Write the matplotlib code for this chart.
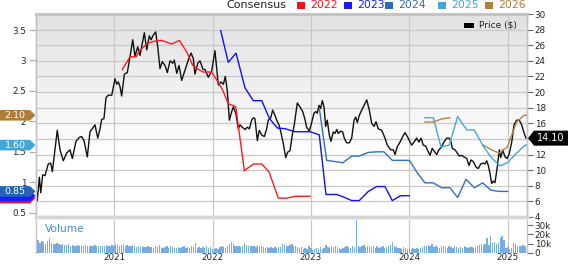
import numpy as np
import matplotlib
matplotlib.use("Agg")
import matplotlib.pyplot as plt
from matplotlib.patches import Polygon, Rectangle
from matplotlib.transforms import blended_transform_factory

# ---- datos (fechas en anios decimales) ----
price_t = [2020.208, 2020.221, 2020.242, 2020.256, 2020.276, 2020.299, 2020.333, 2020.357, 2020.374, 2020.401,
           2020.424, 2020.452, 2020.485, 2020.520, 2020.553, 2020.577, 2020.614, 2020.648, 2020.672, 2020.695,
           2020.729, 2020.756, 2020.784, 2020.807, 2020.835, 2020.858, 2020.875, 2020.898, 2020.919, 2020.942,
           2020.977, 2021.010, 2021.027, 2021.044, 2021.061, 2021.078, 2021.105, 2021.135, 2021.162, 2021.190,
           2021.213, 2021.241, 2021.264, 2021.287, 2021.308, 2021.332, 2021.358, 2021.376, 2021.399, 2021.423,
           2021.444, 2021.467, 2021.490, 2021.518, 2021.541, 2021.569, 2021.596, 2021.612, 2021.637, 2021.660,
           2021.687, 2021.721, 2021.754, 2021.782, 2021.805, 2021.822, 2021.850, 2021.873, 2021.904, 2021.924,
           2021.957, 2021.992, 2022.025, 2022.059, 2022.086, 2022.110, 2022.130, 2022.150, 2022.171, 2022.195,
           2022.211, 2022.236, 2022.262, 2022.279, 2022.303, 2022.330, 2022.353, 2022.374, 2022.398, 2022.414,
           2022.431, 2022.455, 2022.475, 2022.500, 2022.526, 2022.550, 2022.566, 2022.591, 2022.611, 2022.635,
           2022.652, 2022.675, 2022.695, 2022.719, 2022.743, 2022.763, 2022.787, 2022.810, 2022.830, 2022.861,
           2022.888, 2022.916, 2022.939, 2022.956, 2022.983, 2023.007, 2023.030, 2023.051, 2023.064, 2023.081,
           2023.098, 2023.115, 2023.132, 2023.149, 2023.165, 2023.186, 2023.203, 2023.226, 2023.244, 2023.261,
           2023.277, 2023.302, 2023.322, 2023.338, 2023.362, 2023.389, 2023.413, 2023.437, 2023.454, 2023.470,
           2023.490, 2023.515, 2023.538, 2023.566, 2023.592, 2023.616, 2023.640, 2023.660, 2023.683, 2023.718,
           2023.751, 2023.775, 2023.809, 2023.836, 2023.853, 2023.876, 2023.904, 2023.931, 2023.954, 2023.978,
           2023.998, 2024.022, 2024.046, 2024.073, 2024.096, 2024.117, 2024.140, 2024.164, 2024.185, 2024.208,
           2024.231, 2024.252, 2024.276, 2024.299, 2024.327, 2024.350, 2024.378, 2024.401, 2024.418, 2024.435,
           2024.462, 2024.485, 2024.506, 2024.530, 2024.553, 2024.581, 2024.604, 2024.624, 2024.648, 2024.675,
           2024.698, 2024.723, 2024.749, 2024.766, 2024.784, 2024.800, 2024.817, 2024.834, 2024.851, 2024.868,
           2024.891, 2024.912, 2024.926, 2024.946, 2024.970, 2024.993, 2025.013, 2025.038, 2025.061, 2025.088,
           2025.115, 2025.139, 2025.162, 2025.183]
price = [7.9, 6.1, 9.1, 7.1, 9.4, 9.3, 10.8, 10.9, 9.8, 12.6,
         15.1, 12.6, 11.2, 12.2, 12.6, 11.5, 13.7, 14.2, 14.3, 13.8,
         11.7, 14.9, 15.4, 15.8, 14.1, 15.3, 16.5, 16.6, 19.3, 19.6,
         19.6, 21.7, 21.0, 21.3, 20.7, 19.5, 22.3, 22.5, 24.5, 26.7,
         24.6, 25.8, 24.7, 26.2, 27.6, 25.4, 27.2, 26.7, 27.3, 27.7,
         25.8, 23.0, 23.9, 23.4, 22.5, 24.0, 23.7, 24.1, 22.4, 23.4,
         21.5, 22.8, 24.1, 25.0, 24.3, 22.3, 23.7, 24.0, 22.9, 22.9,
         21.9, 22.7, 25.3, 20.9, 21.3, 21.0, 22.0, 20.2, 16.4, 17.5,
         18.1, 17.3, 15.3, 15.8, 15.5, 15.2, 15.5, 15.3, 16.4, 16.7,
         16.6, 13.8, 15.1, 14.5, 14.3, 15.3, 16.4, 16.7, 17.7, 17.0,
         16.4, 15.8, 14.8, 13.4, 11.6, 12.3, 12.5, 14.5, 15.8, 18.6,
         18.1, 17.5, 16.5, 15.5, 15.0, 16.1, 17.3, 17.5, 17.3, 18.3,
         17.9, 18.9, 18.1, 15.6, 16.4, 14.5, 13.7, 14.9, 14.7, 15.2,
         14.7, 15.0, 14.9, 14.1, 13.5, 13.5, 14.1, 16.4, 16.8, 16.1,
         17.0, 17.7, 18.3, 19.0, 17.7, 16.0, 15.6, 16.2, 15.3, 15.1,
         14.1, 13.2, 12.6, 12.6, 12.0, 13.0, 13.6, 14.3, 14.8, 14.3,
         13.8, 13.2, 13.6, 14.1, 13.6, 14.1, 13.2, 13.1, 12.5, 11.9,
         12.8, 12.4, 12.0, 12.6, 13.0, 13.6, 14.1, 14.1, 13.8, 12.8,
         12.6, 12.2, 11.8, 11.9, 11.7, 11.5, 10.6, 11.3, 11.1, 10.4,
         10.2, 10.8, 10.9, 10.8, 11.2, 10.6, 9.6, 8.3, 8.6, 8.4,
         10.4, 12.6, 11.6, 12.6, 11.7, 11.5, 12.1, 13.6, 15.8, 16.4,
         16.4, 15.8, 14.8, 14.1]

eps22_t = [2021.084, 2021.129, 2021.162, 2021.223, 2021.264, 2021.338, 2021.416, 2021.484, 2021.586,
           2021.663, 2021.738, 2021.799, 2021.840, 2021.907, 2021.990, 2022.059, 2022.104, 2022.160,
           2022.236, 2022.323, 2022.414, 2022.500, 2022.574, 2022.668, 2022.753, 2022.838, 2022.990]
eps22 = [2.85, 2.97, 3.06, 3.06, 3.17, 3.28, 3.32, 3.33, 3.27,
         3.33, 3.14, 2.92, 2.87, 2.81, 2.81, 2.64, 2.51, 2.29,
         2.24, 1.19, 1.30, 1.30, 1.17, 0.74, 0.74, 0.77, 0.77]

eps23_t = [2022.083, 2022.160, 2022.239, 2022.330, 2022.414, 2022.500, 2022.577, 2022.658, 2022.736,
           2022.838, 2022.990, 2023.084, 2023.152, 2023.261, 2023.328, 2023.413, 2023.490, 2023.582,
           2023.667, 2023.751, 2023.825, 2023.911, 2023.998]
eps23 = [3.49, 2.97, 3.12, 2.55, 2.34, 2.34, 2.05, 1.89, 1.88,
         1.83, 1.83, 1.78, 0.80, 0.80, 0.76, 0.70, 0.70, 0.85,
         0.93, 0.93, 0.70, 0.78, 0.78]

eps24_t = [2023.084, 2023.159, 2023.244, 2023.322, 2023.413, 2023.490, 2023.582, 2023.667, 2023.741,
           2023.825, 2023.998, 2024.073, 2024.157, 2024.242, 2024.327, 2024.411, 2024.489, 2024.574,
           2024.658, 2024.743, 2024.827, 2024.912, 2024.997]
eps24 = [2.22, 1.36, 1.34, 1.32, 1.43, 1.43, 1.49, 1.50, 1.50,
         1.36, 1.36, 1.17, 0.99, 0.99, 0.91, 0.91, 0.75, 1.05,
         0.91, 0.99, 0.87, 0.85, 0.85]

eps25_t = [2024.157, 2024.242, 2024.320, 2024.404, 2024.489, 2024.581, 2024.658, 2024.749, 2024.834,
           2024.919, 2024.993, 2025.088, 2025.173, 2025.190]
eps25 = [2.06, 2.06, 1.58, 1.61, 2.08, 1.86, 1.86, 1.59, 1.40,
         1.27, 1.32, 1.48, 1.61, 1.61]

eps26_t = [2024.157, 2024.242, 2024.327, 2024.411, 2024.580, 2024.749, 2024.834, 2024.912, 2024.993,
           2025.088, 2025.162, 2025.190]
eps26 = [1.99, 1.99, 2.04, 2.06, np.nan, 1.61, 1.53, 1.48, 1.58,
         1.99, 2.10, 2.10]

# valores de las etiquetas del lado izquierdo
badge_vals = [("", 0.74, "#e0102a"), ("", 0.78, "#1a1aff"), ("0.85", 0.85, "#2464b4"),
              ("1.60", 1.61, "#44a6d6"), ("2.10", 2.10, "#b07e36")]
last_price_label = "14.10"

# volumen semanal (miles), primera semana 2020.21
vol_start = 2020.21
volume_k = [21, 14, 11, 13, 12, 10, 13, 16, 11, 10, 10, 11, 10, 9, 10, 9, 9, 10, 8, 9,
            8, 8, 9, 7, 8, 8, 9, 7, 8, 7, 8, 9, 7, 8, 7, 8, 7, 9, 8, 7,
            9, 8, 10, 9, 8, 9, 10, 8, 9, 8, 7, 9, 7, 6, 7, 6, 7, 6, 6, 7,
            6, 6, 5, 7, 6, 9, 6, 5, 6, 7, 5, 8, 6, 5, 5, 6, 5, 6, 7, 5,
            6, 5, 7, 6, 11, 5, 6, 5, 6, 5, 7, 5, 6, 4, 4, 5, 4, 6, 7, 6,
            5, 8, 10, 12, 10, 8, 7, 8, 6, 7, 11, 9, 8, 7, 8, 7, 6, 9, 8, 7,
            6, 5, 6, 5, 6, 5, 6, 5, 6, 6, 10, 9, 7, 8, 9, 10, 8, 7, 6, 5,
            6, 4, 5, 4, 7, 5, 3, 4, 5, 4, 6, 4, 5, 9, 6, 5, 7, 6, 8, 6,
            5, 4, 5, 6, 7, 6, 5, 7, 6, 35, 8, 6, 7, 9, 6, 8, 7, 6, 8, 5,
            7, 5, 6, 7, 5, 6, 8, 9, 12, 7, 6, 5, 5, 4, 6, 5, 4, 5, 4, 5,
            4, 5, 4, 5, 6, 7, 8, 9, 7, 10, 6, 8, 6, 5, 8, 7, 6, 5, 7, 6,
            5, 7, 6, 5, 6, 5, 7, 6, 5, 6, 6, 5, 6, 7, 9, 10, 9, 10, 16, 9,
            18, 11, 12, 10, 11, 16, 18, 14, 5, 6, 4, 5, 11, 10, 8, 7, 8, 9, 8]

years = [2021, 2022, 2023, 2024, 2025]
price_ticks = list(range(4, 31, 2))
eps_ticks = [0.5, 1, 1.5, 2, 2.5, 3, 3.5]

legend_items = [("2022", "#f0141e"), ("2023", "#1a1aff"), ("2024", "#2e6cb8"),
                ("2025", "#44a6d6"), ("2026", "#b07e36")]
line_colors = {"2022": "#ff1a1a", "2023": "#1010ff", "2024": "#3270c0",
               "2025": "#44a8d8", "2026": "#b8843e"}

# ---- figura ----
W, H = 568, 264
fig = plt.figure(figsize=(W / 100, H / 100), dpi=100)


def box(x0, y0, x1, y1):
    return [x0 / W, 1 - y1 / H, (x1 - x0) / W, (y1 - y0) / H]


# eje de precio (derecha) abajo, eje de consenso (izquierda) encima
axp = fig.add_axes(box(36, 14, 527, 217))
ax = axp.twinx()
axv = fig.add_axes(box(36, 219.5, 527, 253))

xmin, xmax = 2020.208, 2025.193
grid_c = "#c9c9c9"
spine_c = "#c4c4c4"
txt_c = "#222222"

# fondo con degradado
grad = np.linspace(0, 1, 200).reshape(-1, 1)
shade = np.clip((grad - 0.3) / 0.7, 0, 1)
rgb = np.ones((200, 1, 3)) - shade[..., None] * (1 - 0.885)
axp.imshow(rgb, extent=[0, 1, 0, 1], transform=axp.transAxes, aspect="auto",
           origin="lower", zorder=0, interpolation="bilinear")

axp.set_xlim(xmin, xmax)
axp.set_ylim(4, 30)
ax.set_ylim(0.43, 3.763)

# grilla y ejes
axp.set_xticks(years)
axp.set_xticklabels([])
axp.tick_params(axis="x", length=0)
axp.yaxis.tick_right()
axp.set_yticks(price_ticks)
# la etiqueta 14 queda tapada por el badge del precio
axp.set_yticklabels(["" if v == 14 else str(v) for v in price_ticks])
axp.tick_params(axis="y", length=4, width=0.8, color="#666666", pad=1.5,
                labelsize=6.3, labelcolor=txt_c)
axp.grid(True, color=grid_c, lw=0.9, zorder=1)

ax.yaxis.tick_left()
ax.set_yticks(eps_ticks)
ax.set_yticklabels(["%g" % v for v in eps_ticks])
ax.tick_params(axis="y", length=5, width=0.8, color="#aaaaaa", pad=2,
               labelsize=6.3, labelcolor=txt_c)

for a in (ax, axp):
    for s in a.spines.values():
        s.set_color(spine_c)
        s.set_linewidth(1)
    a.spines["top"].set_linewidth(2.2)
    a.spines["bottom"].set_color("#d6d6d6")
    a.spines["bottom"].set_linewidth(2.5)

# precio
axp.plot(price_t, price, color="#111111", lw=1.0, zorder=4)

# lineas de consenso
ax.plot(eps22_t, eps22, color=line_colors["2022"], lw=1, zorder=3)
ax.plot(eps23_t, eps23, color=line_colors["2023"], lw=1, zorder=3)
ax.plot(eps24_t, eps24, color=line_colors["2024"], lw=1, zorder=3)
ax.plot(eps25_t, eps25, color=line_colors["2025"], lw=1, zorder=3)
ax.plot(eps26_t, eps26, color=line_colors["2026"], lw=1, zorder=3)

# volumen
vol_t = vol_start + np.arange(len(volume_k)) / 52.0
axv.bar(vol_t, np.array(volume_k) * 1000, width=0.72 / 52, color="#78ade0", zorder=2)
axv.set_xlim(xmin, xmax)
axv.set_ylim(0, 36000)
axv.set_xticks(years)
axv.set_xticklabels([str(y) for y in years])
axv.tick_params(axis="x", length=0, pad=0.3, labelsize=6.3, labelcolor=txt_c)
axv.yaxis.tick_right()
axv.set_yticks([0, 10000, 20000, 30000])
axv.set_yticklabels(["0", "10k", "20k", "30k"])
axv.tick_params(axis="y", length=4, width=0.8, color="#666666", pad=1.5,
                labelsize=6.3, labelcolor=txt_c)
axv.grid(True, axis="x", color=grid_c, lw=0.9, zorder=1)
axv.set_axisbelow(True)
for k, s in axv.spines.items():
    s.set_color(spine_c)
    s.set_linewidth(1)
axv.spines["top"].set_visible(False)
axv.spines["bottom"].set_visible(False)
fig.text(45 / W, 1 - 229 / H, "Volume", color="#3f8fd2", fontsize=7.7, va="center")


# etiquetas tipo "badge"
def badge(a, yval, text, color, right=False, half_px=5.3):
    ax_w = a.get_position().width * W
    ax_h = a.get_position().height * H
    lo, hi = a.get_ylim()
    dy = half_px * (hi - lo) / ax_h
    trans = blended_transform_factory(a.transAxes, a.transData)
    px = 1.0 / ax_w
    if right:
        xs = [1 + 1 * px, 1 + 7 * px, 1 + 41 * px, 1 + 41 * px, 1 + 7 * px]
        ys = [yval, yval + dy, yval + dy, yval - dy, yval - dy]
        xt = 1 + 24 * px
    else:
        xs = [-36 * px, -6 * px, -0.5 * px, -6 * px, -36 * px]
        ys = [yval - dy, yval - dy, yval, yval + dy, yval + dy]
        xt = -21 * px
    a.add_patch(Polygon(list(zip(xs, ys)), closed=True, facecolor=color, edgecolor="none",
                        transform=trans, clip_on=False, zorder=20))
    if text:
        a.text(xt, yval, text, color="white", fontsize=7 if right else 6.8, ha="center",
               va="center", transform=trans, clip_on=False, zorder=21)


for lab, val, col in badge_vals:
    badge(ax, val, lab, col)
badge(axp, price[-1], last_price_label, "#000000", right=True, half_px=7.5)

# leyenda superior
fig.text(286 / W, 1 - 5.5 / H, "Consensus", color=txt_c, fontsize=8, ha="right", va="center")
sq_x = [297, 344, 385, 438, 485]
for (lab, col), x0 in zip(legend_items, sq_x):
    fig.add_artist(Rectangle((x0 / W, 1 - 9.3 / H), 8 / W, 7.6 / H, facecolor=col,
                             edgecolor="none", transform=fig.transFigure))
    fig.text((x0 + 13) / W, 1 - 5.5 / H, lab, color=col, fontsize=7.8, va="center")

fig.add_artist(Rectangle((464 / W, 1 - 27.5 / H), 10 / W, 5 / H, facecolor="black",
                         edgecolor="none", transform=fig.transFigure))
fig.text(479 / W, 1 - 25.3 / H, "Price ($)", color=txt_c, fontsize=6.5, va="center")

fig.savefig("out.png", dpi=100)
print("Grafica guardada: out.png")
